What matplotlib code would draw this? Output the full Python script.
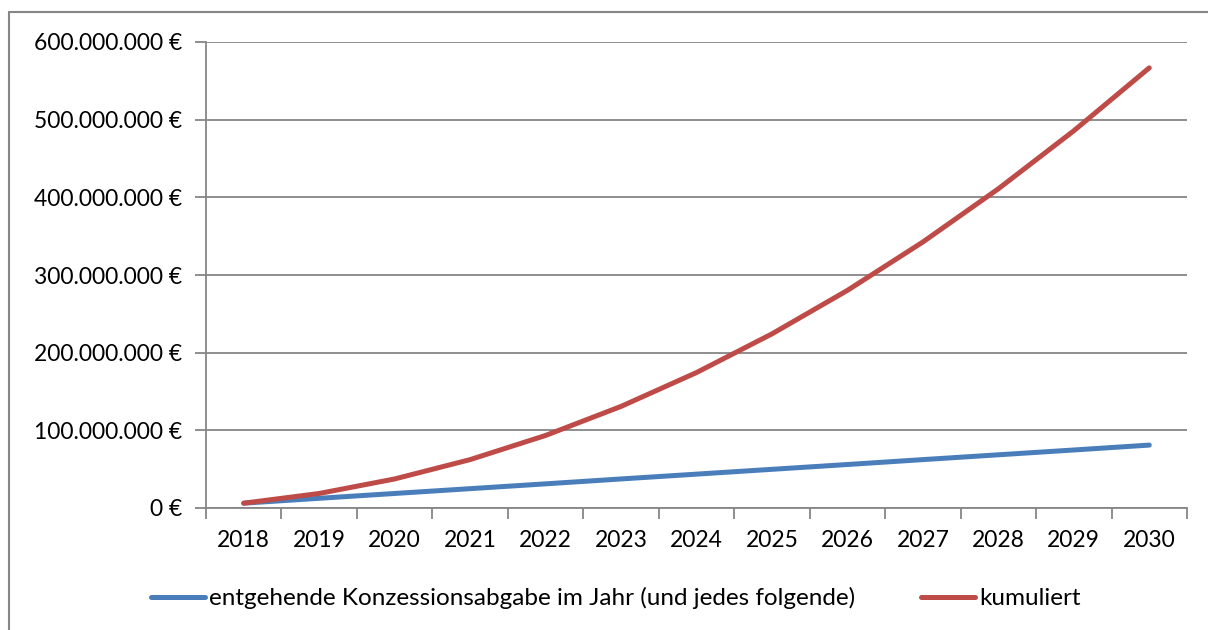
import numpy as np
import matplotlib
matplotlib.use("Agg")
import matplotlib.pyplot as plt
from matplotlib.ticker import FuncFormatter, FixedLocator
from matplotlib.patches import Rectangle

# Daten (in Euro)
jahre = ['2018', '2019', '2020', '2021', '2022', '2023', '2024',
         '2025', '2026', '2027', '2028', '2029', '2030']
abgabe_jahr = [6.2e6, 12.5e6, 18.7e6, 24.9e6, 31.1e6, 37.4e6, 43.6e6,
               49.8e6, 56.0e6, 62.3e6, 68.5e6, 74.7e6, 81.0e6]
kumuliert = [6.2e6, 18.7e6, 37.4e6, 62.3e6, 93.4e6, 130.8e6, 174.4e6,
             224.2e6, 280.2e6, 342.5e6, 411.0e6, 485.7e6, 566.7e6]
y_ticks = [0, 100e6, 200e6, 300e6, 400e6, 500e6, 600e6]

plt.rcParams['font.family'] = ['Lato', 'DejaVu Sans']
fs = 16.5
fs_leg = 17.5
grau = '#868686'
blau = '#4A7EBB'
rot = '#BE4B48'

fig = plt.figure(figsize=(12.08, 6.30), dpi=100)
ax = fig.add_axes([206 / 1208, 1 - 508 / 630, 981 / 1208, 466 / 630])

# Rahmen um das ganze Diagramm
fig.patches.append(Rectangle((9 / 1208, -0.1), 1.2, 1 - 12 / 630 + 0.1,
                             transform=fig.transFigure, fill=False,
                             edgecolor=grau, linewidth=1.5))

x = np.arange(len(jahre))
l1, = ax.plot(x, abgabe_jahr, color=blau, lw=3.6, solid_capstyle='round',
              label='entgehende Konzessionsabgabe im Jahr (und jedes folgende)')
l2, = ax.plot(x, kumuliert, color=rot, lw=3.6, solid_capstyle='round',
              label='kumuliert')

ax.set_xlim(-0.5, len(jahre) - 0.5)
ax.set_ylim(0, 600e6)

def euro(v, pos):
    s = f"{int(round(v)):,}".replace(',', '.')
    return s + " €"

ax.yaxis.set_major_locator(FixedLocator(y_ticks))
ax.yaxis.set_major_formatter(FuncFormatter(euro))
ax.grid(axis='y', color=grau, lw=1.3)
ax.set_axisbelow(True)

# Teilstriche zwischen den Kategorien, Beschriftung in der Mitte
ax.set_xticks(np.arange(-0.5, len(jahre), 1.0))
ax.set_xticklabels([])
ax.set_xticks(x, minor=True)
ax.set_xticklabels(jahre, minor=True)
ax.tick_params(axis='x', which='major', length=8, width=1.3, color=grau,
               direction='out')
ax.tick_params(axis='x', which='minor', length=0, pad=16, labelsize=fs)
ax.tick_params(axis='y', length=8, width=1.3, color=grau, pad=9,
               labelsize=fs)

for s in ['top', 'right']:
    ax.spines[s].set_visible(False)
for s in ['left', 'bottom']:
    ax.spines[s].set_color(grau)
    ax.spines[s].set_linewidth(1.3)

fig.legend(handles=[l1, l2], loc='center', ncol=2,
           bbox_to_anchor=(616 / 1208, 1 - 598 / 630), frameon=False,
           fontsize=fs_leg, handlelength=2.2, handletextpad=0.2,
           columnspacing=2.7)

fig.savefig('out.png', dpi=100)
